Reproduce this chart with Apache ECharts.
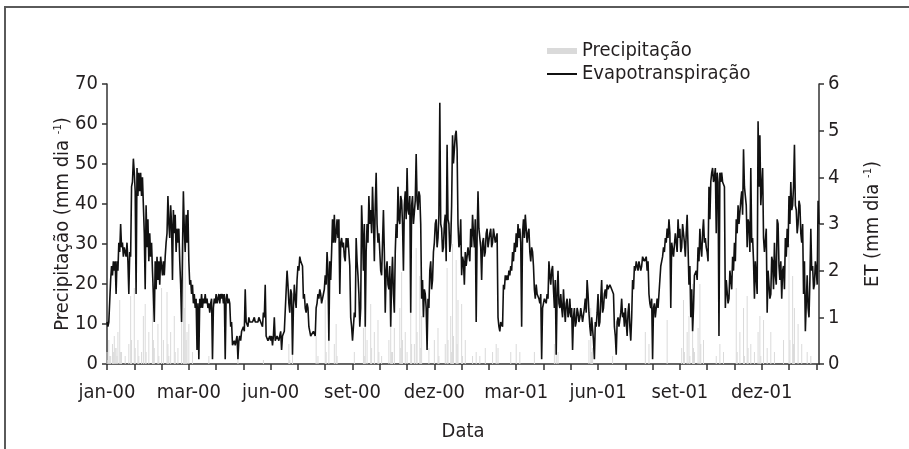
<!DOCTYPE html>
<html>
<head>
<meta charset="utf-8">
<script src="https://cdn.jsdelivr.net/npm/echarts@6/dist/echarts.min.js"></script>
<style>
  html, body { margin: 0; padding: 0; background: #fff; }
  #etChart { width: 909px; height: 449px; }
</style>
</head>
<body>
<div id="etChart"></div>
<script>
// valores diários, 01/01/2000 até fev-02 (10 dias por bloco)
const etValues = [
  0.9,0.8,0.9,0.9,1.8,2.1,1.9,2.2,2.0,2.2, 1.5,2.2,2.0,2.6,2.4,3.0,2.5,2.6,2.3,2.5,
  2.5,2.3,2.6,2.2,1.5,2.4,2.3,3.8,3.9,4.4, 4.1,3.7,1.5,4.2,3.6,4.1,3.7,4.1,3.6,4.0,
  3.4,2.8,1.6,3.4,2.5,3.1,2.2,2.8,2.3,2.6, 2.0,1.5,0.9,2.2,1.6,2.3,1.8,2.2,1.7,2.3,
  2.1,1.9,2.2,1.9,2.3,2.6,2.8,3.6,3.0,2.7, 3.4,3.0,1.8,3.3,2.8,3.2,2.4,2.9,2.6,2.9,
  2.2,1.7,0.9,2.4,3.7,2.9,2.4,3.2,2.6,3.3, 2.2,1.7,1.8,1.5,1.7,1.3,1.5,1.2,1.4,0.3,
  1.3,0.1,1.4,1.2,1.5,1.2,1.4,1.3,1.5,1.3, 1.4,1.2,1.3,1.1,1.3,1.4,0.1,1.2,1.4,1.3,
  1.5,1.3,1.4,1.5,1.3,1.5,1.4,1.5,1.3,1.5, 0.1,1.4,1.5,1.3,1.4,1.3,0.8,0.9,0.4,0.4,
  0.5,0.4,0.5,0.6,0.1,0.5,0.6,0.5,0.7,0.7, 0.8,0.7,1.6,0.9,0.9,0.8,1.0,0.9,0.9,0.9,
  0.9,0.9,1.0,0.9,0.9,0.9,0.9,1.0,1.0,0.9, 0.9,0.8,1.1,1.0,1.7,0.6,0.6,0.5,0.5,0.6,
  0.5,0.6,0.4,0.6,1.0,0.5,0.5,0.6,0.6,0.5, 0.6,0.7,0.3,0.6,0.6,0.7,0.7,0.7,2.0,1.7,
  1.3,1.1,1.6,1.5,0.2,1.2,1.7,1.4,1.2,1.8, 2.1,2.0,2.3,2.2,2.2,2.1,1.4,1.5,1.2,1.1,
  1.3,1.2,0.8,0.7,0.6,0.6,0.6,0.7,0.7,0.6, 1.2,1.3,1.5,1.4,1.6,1.5,1.3,1.4,1.5,1.6,
  1.9,1.7,2.4,2.0,0.5,2.2,1.8,2.4,3.1,2.6, 3.2,2.6,2.8,3.1,2.7,3.1,1.5,2.6,2.7,2.5,
  2.6,2.3,2.2,2.7,2.5,2.7,2.4,2.1,1.0,0.8, 0.5,0.8,1.1,1.0,2.7,2.2,1.9,1.5,0.8,1.2,
  3.4,2.8,2.0,3.0,0.8,2.4,3.0,2.6,3.6,3.0, 3.3,2.8,3.8,3.1,2.2,3.4,4.1,3.0,2.6,2.8,
  2.4,2.0,1.9,2.6,3.3,2.4,1.1,2.0,2.2,1.7, 1.6,2.1,0.8,1.8,2.3,1.5,1.1,2.4,3.0,2.7,
  3.8,3.1,3.0,3.6,3.5,3.0,2.0,3.4,3.7,3.1, 4.2,3.3,3.2,3.6,1.1,3.4,3.6,3.0,3.0,3.5,
  4.5,3.5,3.3,3.7,3.6,3.0,1.4,1.8,1.0,1.6, 1.5,1.2,0.3,1.4,1.2,2.0,2.2,1.6,1.8,2.4,
  2.6,3.0,3.1,2.5,2.7,3.2,5.6,3.0,2.9,2.4, 2.5,3.0,3.2,2.2,4.7,3.1,3.0,2.4,2.6,3.4,
  4.9,4.3,4.6,4.9,5.0,4.6,3.0,2.5,2.6,3.1, 1.9,2.3,2.2,1.7,2.4,2.1,2.3,2.5,2.5,2.2,
  2.9,2.5,3.2,2.8,2.5,3.1,0.9,2.7,3.7,2.9, 2.9,2.5,1.8,2.6,2.7,2.3,2.4,2.8,2.9,2.5,
  2.5,2.8,2.9,2.5,2.6,2.9,2.9,2.6,2.7,2.8, 1.0,0.8,0.7,0.9,0.9,0.8,1.7,1.6,1.9,1.8,
  1.9,1.8,2.0,1.9,2.1,2.0,2.4,2.2,2.6,2.4, 2.8,2.5,3.0,2.7,2.9,2.6,0.8,2.8,3.1,2.7,
  3.2,2.9,2.6,2.8,2.9,2.4,2.2,2.5,2.4,2.1, 1.6,1.4,1.7,1.5,1.5,1.4,1.3,1.5,0.1,1.2,
  1.3,1.4,1.4,1.3,1.5,1.4,2.2,1.9,1.7,2.0, 2.1,1.6,1.2,1.8,0.2,1.5,2.0,1.3,1.2,1.5,
  1.2,1.0,1.6,1.2,0.9,1.3,1.4,1.0,1.1,1.4, 1.0,1.2,0.3,1.0,1.2,0.8,0.9,1.2,1.1,0.9,
  1.0,1.2,1.2,0.9,0.9,1.2,1.4,1.1,1.8,1.5, 1.1,0.8,0.6,1.0,1.0,0.5,0.1,0.9,0.8,1.1,
  1.5,0.8,0.9,1.4,1.8,1.1,1.2,1.5,1.6,1.4, 1.7,1.6,1.6,1.7,1.7,1.6,1.6,1.5,0.8,0.6,
  0.2,0.9,1.0,0.8,0.8,1.1,1.4,1.0,1.1,0.8, 1.2,0.9,0.6,1.1,1.3,0.8,0.5,1.0,1.8,1.6,
  2.1,2.0,2.2,2.1,2.0,2.2,2.2,2.0,2.1,2.3, 2.3,2.2,2.2,2.3,2.0,2.2,1.5,1.3,1.2,1.4,
  0.1,1.2,1.3,1.0,1.0,1.4,1.2,1.5,1.8,2.1, 2.2,2.3,2.5,2.4,2.7,2.6,2.9,2.7,3.1,2.8,
  1.2,2.6,2.6,2.3,2.3,2.8,2.8,2.4,3.1,2.7, 2.9,2.4,2.5,3.0,3.0,2.6,2.3,2.8,3.2,2.5,
  1.7,2.1,1.0,1.6,0.7,1.2,1.9,1.9,2.0,1.8, 2.5,2.2,2.9,2.5,2.3,2.8,3.1,2.6,2.7,2.5,
  2.4,2.2,3.8,3.1,3.9,4.1,4.2,3.9,4.0,4.2, 2.8,4.1,3.9,0.6,4.1,3.9,4.1,3.9,3.9,3.8,
  1.2,1.8,1.8,1.3,1.4,2.0,2.0,1.6,2.3,2.0, 2.6,2.2,3.1,2.8,3.4,3.0,3.0,3.5,3.7,3.2,
  4.6,3.8,3.8,3.4,2.5,3.1,3.0,2.4,4.2,2.6, 2.7,2.2,1.4,2.2,2.2,1.5,5.2,3.8,4.9,3.4,
  3.4,4.2,2.7,2.4,2.4,2.9,1.1,2.0,2.0,1.4, 1.5,2.3,2.2,1.6,2.6,1.9,1.7,3.1,3.0,2.1,
  1.8,2.2,1.4,2.0,2.1,1.6,2.7,2.3,2.9,2.5, 3.6,3.0,3.9,3.3,3.4,3.8,4.7,3.4,3.3,2.8,
  3.0,3.5,3.4,2.8,2.6,3.0,1.5,2.2,0.7,1.3, 1.9,1.2,1.0,1.8,2.9,2.0,2.1,1.6,1.7,2.2,
  2.0,1.7,3.5,3.0
];

const precipValues = [
  3,1,6,2,2,0,5,3,7,4, 4,2,8,0,16,3,3,0,0,0,
  2,0,0,0,5,0,17,6,0,0, 19,4,0,0,6,2,0,0,3,0,
  12,0,15,3,0,0,8,0,0,0, 20,6,4,0,0,0,10,2,0,0,
  19,0,6,0,0,0,18,5,2,0, 8,0,0,0,12,3,0,0,4,0,
  0,0,12,0,38,14,30,6,8,0, 10,0,0,0,3,0,0,0,0,0,
  0,0,0,0,0,0,0,0,0,0, 0,0,2,0,0,0,0,0,0,0,
  0,0,0,0,0,0,0,0,0,0, 0,0,0,0,0,0,0,0,0,0,
  0,0,0,0,2,0,0,0,0,0, 0,0,0,0,0,0,0,0,0,0,
  0,0,0,0,0,0,0,0,0,0, 0,0,1,0,0,0,0,0,0,0,
  0,0,0,0,0,0,0,0,0,0, 0,0,0,0,0,0,0,0,0,0,
  5,1,0,0,3,0,0,0,0,0, 0,0,0,0,0,0,0,0,0,0,
  0,0,0,0,0,0,0,0,0,0, 7,0,2,0,0,0,0,0,0,0,
  16,3,0,0,9,0,0,0,0,0, 5,0,10,2,0,0,0,0,0,0,
  0,0,0,0,0,0,0,0,0,0, 0,0,3,0,0,0,0,0,0,0,
  0,0,9,2,12,0,6,0,0,0, 15,4,0,0,8,0,0,0,11,3,
  0,0,2,0,0,0,0,0,0,0, 6,0,12,3,3,0,9,0,0,0,
  0,0,14,4,23,6,0,0,8,0, 3,0,0,0,18,5,0,0,5,0,
  29,8,0,0,22,4,12,0,0,0, 0,0,0,0,4,0,0,0,0,0,
  6,0,0,0,9,2,0,0,0,0, 0,0,5,0,24,6,0,0,12,3,
  30,7,0,0,26,5,16,0,0,0, 15,2,0,0,6,0,0,0,0,0,
  0,0,2,0,0,0,3,0,0,0, 2,0,0,0,0,0,4,0,0,0,
  0,0,0,0,3,0,0,0,5,0, 4,0,0,0,0,0,0,0,0,0,
  0,0,0,0,3,0,0,0,0,0, 5,0,0,0,3,0,0,0,0,0,
  0,0,0,0,0,0,0,0,0,0, 3,0,0,0,0,0,0,0,0,0,
  0,0,0,0,0,0,0,0,0,0, 0,0,5,0,7,0,3,0,0,0,
  0,0,0,0,0,0,0,0,0,0, 0,0,0,0,0,0,0,0,0,0,
  0,0,0,0,0,0,0,0,0,0, 6,0,14,3,4,0,0,0,0,0,
  0,0,0,0,0,0,0,0,0,0, 0,0,0,0,0,0,2,0,0,0,
  0,0,0,0,0,0,0,0,0,0, 0,0,0,0,0,0,0,0,0,0,
  0,0,0,0,0,0,0,0,0,0, 0,0,8,0,0,0,5,0,0,0,
  0,0,0,0,0,0,0,0,0,0, 0,0,0,0,0,0,11,0,0,0,
  0,0,0,0,0,0,0,0,0,0, 0,0,4,0,16,3,0,0,8,0,
  12,2,0,0,20,4,3,0,0,0, 9,0,20,5,0,0,6,0,0,0,
  0,0,0,0,0,0,0,0,0,0, 2,0,0,0,5,0,0,0,3,0,
  0,0,0,0,0,0,0,0,0,0, 0,0,19,3,0,0,8,0,0,0,
  14,2,0,0,17,4,0,0,5,0, 0,0,3,0,0,0,8,0,12,2,
  0,0,11,0,0,0,4,0,0,0, 8,0,0,0,3,0,0,0,0,0,
  0,0,0,0,6,0,0,0,0,0, 30,6,0,0,22,5,14,0,0,0,
  10,0,0,0,5,0,0,0,0,0, 3,0,0,0,2,0,0,0,0,0,
  0,0,0,0
];

const tickLabels = ['jan-00','mar-00','jun-00','set-00','dez-00','mar-01','jun-01','set-01','dez-01'];
const days = etValues.map((v, i) => i);   // dia desde 01/01/2000

const labelEvery = 90;
const tickEvery = 30;
const fontName = '"Liberation Sans Narrow", "DejaVu Sans Condensed", sans-serif';
const ink = '#231f20';

let chart = echarts.init(document.getElementById('etChart'));
chart.setOption({
    animation: false,
    textStyle: { fontFamily: fontName, color: ink },
    graphic: [{
        type: 'polyline',
        shape: { points: [[5, 449], [5, 7], [909, 7]] },
        style: { stroke: '#5a5a5a', lineWidth: 2, fill: null }
    }],
    legend: [{
        left: 547, top: 41, padding: 0,
        itemWidth: 30, itemHeight: 6,
        data: [{ name: 'Precipitação', icon: 'rect' }],
        textStyle: { fontFamily: fontName, fontSize: 20, color: ink }
    }, {
        left: 547, top: 64, padding: 0,
        itemWidth: 30, itemHeight: 2,
        data: [{ name: 'Evapotranspiração', icon: 'rect' }],
        textStyle: { fontFamily: fontName, fontSize: 20, color: ink }
    }],
    grid: { left: 107, right: 90, top: 84, bottom: 85 },
    xAxis: {
        type: 'category',
        data: days,
        boundaryGap: false,
        name: 'Data',
        nameLocation: 'middle',
        nameGap: 58,
        nameTextStyle: { fontFamily: fontName, fontSize: 20, color: ink },
        axisLine: { lineStyle: { color: '#333', width: 1.5 } },
        axisTick: {
            interval: function (i) { return i % tickEvery === 0; },
            length: 6,
            lineStyle: { color: '#333', width: 1.5 }
        },
        axisLabel: {
            interval: function (i) { return i % labelEvery === 0; },
            formatter: function (v, i) { return tickLabels[i / labelEvery] || ''; },
            margin: 19,
            fontSize: 20,
            color: ink,
            fontFamily: fontName
        },
        splitLine: { show: false }
    },
    yAxis: [{
        type: 'value',
        min: 0, max: 70, interval: 10,
        name: 'Precipitação (mm dia {sup|-1})',
        nameLocation: 'middle',
        nameGap: 34,
        nameMoveOverlap: false,
        nameTextStyle: {
            fontFamily: fontName, fontSize: 20, color: ink,
            rich: { sup: { fontSize: 11, verticalAlign: 'top', fontFamily: fontName, color: ink } }
        },
        axisLine: { show: true, lineStyle: { color: '#333', width: 1.5 } },
        axisTick: { show: true, length: 5, lineStyle: { color: '#333', width: 1.5 } },
        axisLabel: { fontSize: 20, color: ink, margin: 9, fontFamily: fontName },
        splitLine: { show: false }
    }, {
        type: 'value',
        min: 0, max: 6, interval: 1,
        position: 'right',
        name: 'ET (mm dia {sup|-1})',
        nameLocation: 'middle',
        nameGap: 44,
        nameRotate: 90,
        nameMoveOverlap: false,
        nameTextStyle: {
            fontFamily: fontName, fontSize: 20, color: ink,
            rich: { sup: { fontSize: 11, verticalAlign: 'top', fontFamily: fontName, color: ink } }
        },
        axisLine: { show: true, lineStyle: { color: '#333', width: 1.5 } },
        axisTick: { show: true, length: 5, lineStyle: { color: '#333', width: 1.5 } },
        axisLabel: { fontSize: 20, color: ink, margin: 9, fontFamily: fontName },
        splitLine: { show: false }
    }],
    series: [{
        name: 'Precipitação',
        type: 'bar',
        yAxisIndex: 0,
        barWidth: 1,
        itemStyle: { color: '#dadada' },
        data: precipValues,
        z: 1
    }, {
        name: 'Evapotranspiração',
        type: 'line',
        yAxisIndex: 1,
        showSymbol: false,
        symbol: 'none',
        lineStyle: { color: '#111', width: 1.6 },
        itemStyle: { color: '#111' },
        data: etValues,
        z: 3
    }]
});
</script>
</body>
</html>
